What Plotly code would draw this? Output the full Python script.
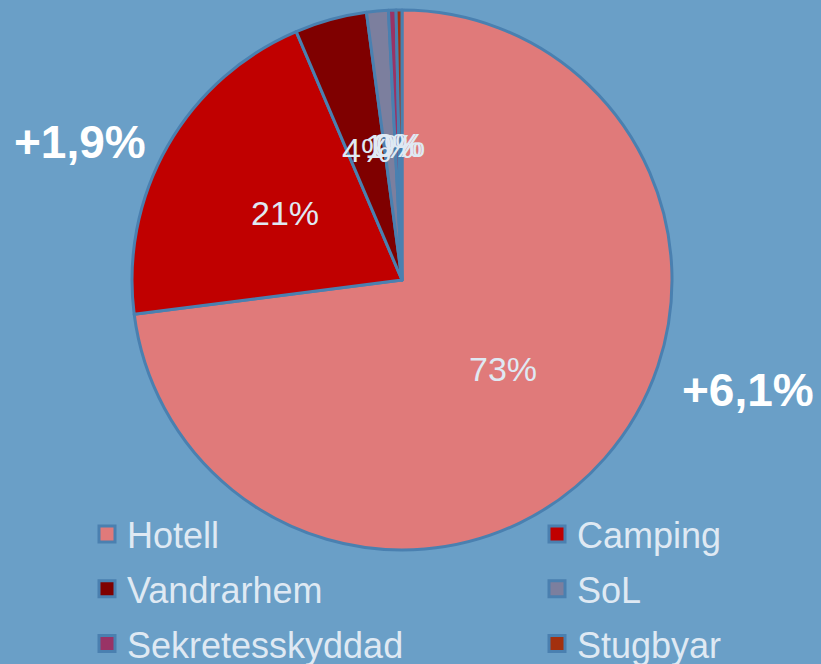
import math
import plotly.graph_objects as go

categories = ["Hotell", "Camping", "Vandrarhem", "SoL", "Sekretesskyddad", "Stugbyar"]
shares = [72.9, 20.6, 4.3, 1.3, 0.45, 0.35]
colors = ["#e07a7a", "#c00000", "#7f0000", "#7c7f9e", "#993366", "#a3300e"]
change_labels = ["+1,9%", "+6,1%"]

W, H = 821, 664
BG = "#6a9fc7"
EDGE = "#4a80b0"
TXT = "#dfe9f3"
FONT = "Arial, Liberation Sans, sans-serif"

# pie geometry (pixels)
cx_px, cy_px, R = 402, 280, 270
dom_x = [(cx_px - R) / W, (cx_px + R) / W]
dom_y = [1 - (cy_px + R) / H, 1 - (cy_px - R) / H]
cx, cy = (dom_x[0] + dom_x[1]) / 2, (dom_y[0] + dom_y[1]) / 2

fig = go.Figure()
fig.add_trace(go.Pie(
    labels=categories, values=shares, sort=False, direction="clockwise",
    marker=dict(colors=colors, line=dict(color=EDGE, width=3)),
    textinfo="none", hoverinfo="label+percent", showlegend=False,
    domain=dict(x=dom_x, y=dom_y),
))

# legend entries (two columns: even index -> left legend, odd -> right legend)
for i, (name, col) in enumerate(zip(categories, colors)):
    fig.add_trace(go.Scatter(
        x=[None], y=[None], mode="markers", name=name,
        legend="legend" if i % 2 == 0 else "legend2",
        legendgroup=name,
        marker=dict(symbol="square", size=16, color=col, line=dict(color=EDGE, width=3)),
        hoverinfo="skip",
    ))

# percentage labels at half radius along each slice's mid angle
total = sum(shares)
cum = 0.0
annotations = []
for v in shares:
    f = (cum + v / 2) / total
    cum += v
    th = 2 * math.pi * f
    ax = cx + 0.5 * R * math.sin(th) / W
    ay = cy + 0.5 * R * math.cos(th) / H
    annotations.append(dict(
        x=ax, y=ay, xref="paper", yref="paper", showarrow=False,
        text=f"{round(v / total * 100):.0f}%",
        font=dict(family=FONT, size=34, color=TXT),
        xanchor="center", yanchor="middle",
    ))

annotations.append(dict(x=80 / W, y=1 - 142 / H, xref="paper", yref="paper", showarrow=False,
                        text=f"<b>{change_labels[0]}</b>",
                        font=dict(family=FONT, size=46, color="white"),
                        xanchor="center", yanchor="middle"))
annotations.append(dict(x=748 / W, y=1 - 390 / H, xref="paper", yref="paper", showarrow=False,
                        text=f"<b>{change_labels[1]}</b>",
                        font=dict(family=FONT, size=46, color="white"),
                        xanchor="center", yanchor="middle"))

legend_common = dict(
    orientation="v", y=1 - 504 / H, xanchor="left", yanchor="top",
    font=dict(family=FONT, size=36, color=TXT),
    bgcolor="rgba(0,0,0,0)", traceorder="grouped", tracegroupgap=5,
    itemclick=False, itemdoubleclick=False, borderwidth=0,
)

fig.update_layout(
    width=W, height=H,
    margin=dict(l=0, r=0, t=0, b=0, pad=0, autoexpand=False),
    paper_bgcolor=BG, plot_bgcolor=BG,
    annotations=annotations,
    showlegend=True,
    xaxis=dict(visible=False), yaxis=dict(visible=False),
    legend=dict(x=87 / W, **legend_common),
    legend2=dict(x=537 / W, **legend_common),
)

fig.write_html("out.html", config={"displayModeBar": False},
               post_script="document.body.style.margin='0';")
